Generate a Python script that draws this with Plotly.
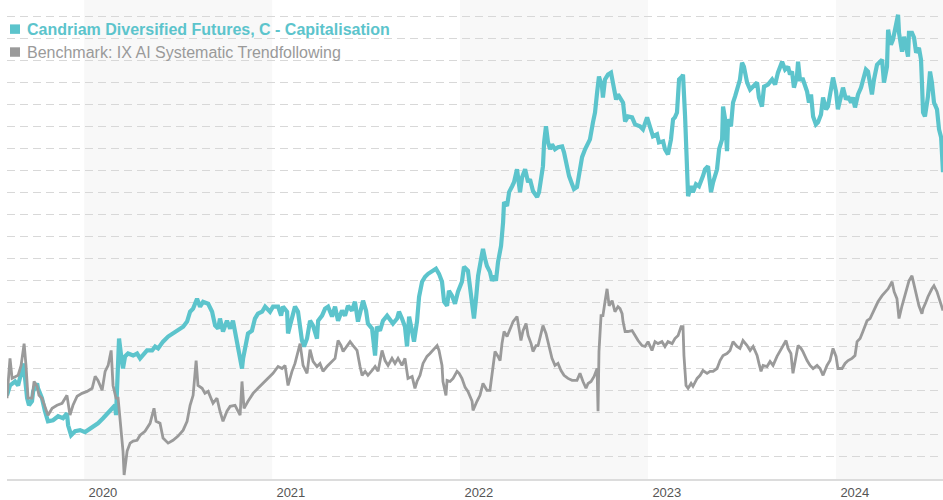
import plotly.graph_objects as go

# ---- data (x in decimal years, y in index points, gridline every 10) ----
fund_name = "Candriam Diversified Futures, C - Capitalisation"
bench_name = "Benchmark: IX AI Systematic Trendfollowing"

fund_year = [
    2019.590, 2019.606, 2019.633, 2019.649, 2019.665, 2019.675, 2019.686, 2019.697, 2019.707, 2019.723,
    2019.729, 2019.750, 2019.755, 2019.776, 2019.792, 2019.808, 2019.835, 2019.862, 2019.888, 2019.909,
    2019.915, 2019.931, 2019.952, 2019.979, 2020.005, 2020.021, 2020.048, 2020.074, 2020.101, 2020.128,
    2020.149, 2020.165, 2020.170, 2020.176, 2020.186, 2020.197, 2020.207, 2020.218, 2020.234, 2020.261,
    2020.282, 2020.298, 2020.314, 2020.335, 2020.362, 2020.378, 2020.394, 2020.420, 2020.447, 2020.473,
    2020.500, 2020.527, 2020.548, 2020.564, 2020.580, 2020.601, 2020.617, 2020.633, 2020.660, 2020.681,
    2020.697, 2020.713, 2020.723, 2020.739, 2020.760, 2020.777, 2020.792, 2020.814, 2020.830, 2020.840,
    2020.846, 2020.862, 2020.872, 2020.893, 2020.909, 2020.925, 2020.947, 2020.963, 2020.989, 2021.005,
    2021.032, 2021.048, 2021.058, 2021.080, 2021.085, 2021.101, 2021.122, 2021.138, 2021.159, 2021.170,
    2021.186, 2021.202, 2021.218, 2021.239, 2021.245, 2021.266, 2021.282, 2021.298, 2021.319, 2021.335,
    2021.351, 2021.372, 2021.388, 2021.404, 2021.425, 2021.441, 2021.457, 2021.484, 2021.500, 2021.510,
    2021.532, 2021.548, 2021.558, 2021.574, 2021.590, 2021.612, 2021.628, 2021.643, 2021.665, 2021.675,
    2021.691, 2021.707, 2021.718, 2021.729, 2021.745, 2021.755, 2021.771, 2021.782, 2021.798, 2021.814,
    2021.830, 2021.851, 2021.872, 2021.888, 2021.904, 2021.915, 2021.931, 2021.941, 2021.957, 2021.973,
    2021.989, 2022.010, 2022.021, 2022.042, 2022.053, 2022.064, 2022.074, 2022.085, 2022.096, 2022.112,
    2022.122, 2022.133, 2022.143, 2022.159, 2022.170, 2022.181, 2022.191, 2022.202, 2022.218, 2022.229,
    2022.234, 2022.250, 2022.261, 2022.277, 2022.287, 2022.303, 2022.309, 2022.319, 2022.330, 2022.346,
    2022.362, 2022.372, 2022.388, 2022.410, 2022.420, 2022.431, 2022.441, 2022.447, 2022.457, 2022.468,
    2022.479, 2022.489, 2022.505, 2022.521, 2022.543, 2022.553, 2022.569, 2022.580, 2022.596, 2022.606,
    2022.622, 2022.638, 2022.649, 2022.665, 2022.681, 2022.691, 2022.707, 2022.718, 2022.729, 2022.739,
    2022.755, 2022.760, 2022.771, 2022.787, 2022.803, 2022.814, 2022.830, 2022.840, 2022.851, 2022.867,
    2022.878, 2022.893, 2022.915, 2022.931, 2022.957, 2022.973, 2022.995, 2023.010, 2023.026, 2023.048,
    2023.058, 2023.080, 2023.090, 2023.106, 2023.122, 2023.133, 2023.143, 2023.154, 2023.165, 2023.181,
    2023.186, 2023.197, 2023.207, 2023.213, 2023.229, 2023.239, 2023.255, 2023.271, 2023.292, 2023.303,
    2023.319, 2023.335, 2023.346, 2023.367, 2023.378, 2023.394, 2023.399, 2023.410, 2023.420, 2023.426,
    2023.441, 2023.452, 2023.463, 2023.473, 2023.489, 2023.500, 2023.510, 2023.527, 2023.543, 2023.559,
    2023.580, 2023.590, 2023.606, 2023.617, 2023.638, 2023.660, 2023.676, 2023.691, 2023.713, 2023.729,
    2023.745, 2023.755, 2023.766, 2023.776, 2023.792, 2023.798, 2023.808, 2023.824, 2023.846, 2023.856,
    2023.867, 2023.878, 2023.893, 2023.904, 2023.920, 2023.931, 2023.947, 2023.957, 2023.973, 2023.984,
    2024.000, 2024.010, 2024.026, 2024.037, 2024.053, 2024.064, 2024.080, 2024.090, 2024.101, 2024.117,
    2024.133, 2024.143, 2024.159, 2024.170, 2024.181, 2024.191, 2024.202, 2024.218, 2024.234, 2024.245,
    2024.255, 2024.271, 2024.277, 2024.292, 2024.303, 2024.319, 2024.330, 2024.335, 2024.351, 2024.362,
    2024.372, 2024.383, 2024.388, 2024.404, 2024.415, 2024.426, 2024.441, 2024.452, 2024.457, 2024.463,
    2024.473, 2024.489, 2024.500, 2024.510, 2024.521, 2024.537, 2024.548, 2024.559, 2024.569,
]
fund_value = [
    38.0, 42.5, 44.3, 42.5, 48.0, 52.5, 45.7, 36.7, 33.5, 35.3,
    39.8, 43.4, 41.2, 36.7, 30.8, 26.2, 26.7, 28.5, 27.6, 29.9,
    24.4, 19.9, 21.7, 22.2, 21.3, 22.2, 24.0, 25.3, 27.6, 29.9,
    32.1, 33.5, 29.0, 47.1, 63.8, 56.1, 50.2, 55.7, 57.0, 56.1,
    57.0, 54.8, 56.1, 58.4, 58.4, 60.2, 59.3, 62.4, 64.7, 66.1,
    67.4, 69.2, 71.5, 76.0, 77.4, 81.9, 78.3, 80.5, 79.6, 76.0,
    69.7, 68.3, 72.9, 67.0, 71.9, 68.3, 71.9, 62.9, 56.1, 50.2,
    54.8, 60.6, 66.1, 67.4, 72.9, 75.1, 76.0, 78.3, 76.0, 78.3,
    78.3, 74.2, 78.3, 76.0, 66.1, 71.5, 78.3, 76.0, 62.9, 60.2,
    63.8, 71.9, 69.7, 63.8, 71.9, 74.2, 77.4, 78.3, 73.8, 78.3,
    71.9, 76.5, 74.2, 78.7, 76.5, 80.5, 71.5, 81.0, 76.5, 70.6,
    68.3, 56.1, 69.2, 67.4, 71.9, 74.2, 71.9, 70.6, 72.9, 76.0,
    72.9, 69.2, 60.2, 73.8, 67.0, 62.4, 71.5, 82.8, 89.6, 91.9,
    93.2, 94.6, 95.5, 93.2, 89.6, 80.5, 78.7, 85.5, 83.3, 79.6,
    85.1, 89.6, 96.4, 94.6, 87.8, 78.7, 72.9, 81.9, 92.3, 100.0,
    104.5, 100.0, 96.8, 94.1, 90.0, 92.3, 90.0, 98.6, 105.9, 116.7,
    125.8, 124.0, 130.3, 133.0, 134.8, 140.7, 134.8, 130.3, 137.1, 140.7,
    134.8, 136.2, 130.8, 128.1, 130.3, 136.2, 142.1, 152.9, 160.2, 152.9,
    149.8, 152.0, 149.8, 150.7, 151.1, 148.4, 142.1, 137.6, 133.9, 131.7,
    132.6, 140.7, 146.2, 149.8, 152.9, 154.3, 162.0, 166.5, 175.6, 182.8,
    178.3, 173.3, 181.5, 183.7, 184.6, 180.1, 172.4, 174.7, 173.3, 171.0,
    162.4, 164.7, 164.3, 161.1, 160.2, 158.8, 164.3, 160.2, 155.7, 156.6,
    152.9, 153.4, 149.8, 147.5, 154.3, 163.4, 164.3, 166.5, 181.5, 182.8,
    183.7, 164.7, 137.6, 128.5, 133.0, 130.3, 133.9, 133.0, 137.6, 140.7,
    142.1, 130.3, 134.8, 140.7, 149.8, 154.3, 169.2, 163.4, 148.9, 163.4,
    160.2, 171.0, 173.8, 176.9, 181.5, 189.1, 187.3, 180.1, 176.9, 178.3,
    180.1, 173.3, 169.2, 178.3, 179.2, 181.5, 179.2, 184.6, 189.6, 186.0,
    187.3, 183.7, 185.1, 177.8, 182.8, 189.6, 181.5, 181.5, 176.0, 171.0,
    174.7, 164.7, 161.1, 162.0, 165.6, 173.3, 167.9, 169.2, 176.0, 182.4,
    176.0, 167.9, 173.8, 177.8, 172.4, 173.8, 171.0, 173.3, 168.8, 174.7,
    177.8, 181.5, 186.0, 185.1, 177.8, 174.7, 181.5, 188.2, 189.6, 190.5,
    180.1, 187.3, 204.1, 197.3, 199.6, 207.2, 210.9, 202.7, 194.1, 200.9,
    195.9, 191.9, 202.7, 202.7, 200.5, 193.7, 195.9, 190.5, 180.1, 166.5,
    164.7, 173.8, 185.1, 180.1, 171.0, 167.9, 158.8, 155.2, 139.4,
]

bench_year = [
    2019.590, 2019.606, 2019.617, 2019.633, 2019.649, 2019.665, 2019.675, 2019.681, 2019.691, 2019.702,
    2019.723, 2019.734, 2019.750, 2019.760, 2019.776, 2019.792, 2019.808, 2019.830, 2019.856, 2019.883,
    2019.909, 2019.925, 2019.941, 2019.963, 2019.989, 2020.016, 2020.043, 2020.059, 2020.074, 2020.096,
    2020.112, 2020.128, 2020.144, 2020.154, 2020.170, 2020.181, 2020.197, 2020.207, 2020.213, 2020.229,
    2020.245, 2020.261, 2020.282, 2020.298, 2020.324, 2020.351, 2020.372, 2020.383, 2020.404, 2020.420,
    2020.447, 2020.473, 2020.500, 2020.527, 2020.548, 2020.564, 2020.580, 2020.596, 2020.606, 2020.628,
    2020.643, 2020.660, 2020.686, 2020.707, 2020.723, 2020.739, 2020.760, 2020.777, 2020.803, 2020.830,
    2020.840, 2020.851, 2020.872, 2020.899, 2020.925, 2020.952, 2020.979, 2021.005, 2021.032, 2021.053,
    2021.069, 2021.085, 2021.106, 2021.122, 2021.149, 2021.165, 2021.186, 2021.202, 2021.218, 2021.239,
    2021.255, 2021.271, 2021.292, 2021.309, 2021.335, 2021.351, 2021.367, 2021.378, 2021.399, 2021.415,
    2021.431, 2021.452, 2021.468, 2021.479, 2021.495, 2021.510, 2021.532, 2021.548, 2021.564, 2021.585,
    2021.601, 2021.617, 2021.638, 2021.654, 2021.670, 2021.691, 2021.707, 2021.723, 2021.745, 2021.760,
    2021.771, 2021.787, 2021.803, 2021.824, 2021.840, 2021.856, 2021.878, 2021.888, 2021.904, 2021.909,
    2021.925, 2021.931, 2021.947, 2021.963, 2021.984, 2021.995, 2022.010, 2022.027, 2022.042, 2022.064,
    2022.069, 2022.090, 2022.106, 2022.122, 2022.143, 2022.159, 2022.176, 2022.186, 2022.202, 2022.213,
    2022.223, 2022.234, 2022.250, 2022.266, 2022.282, 2022.303, 2022.314, 2022.324, 2022.335, 2022.351,
    2022.362, 2022.378, 2022.388, 2022.404, 2022.415, 2022.431, 2022.441, 2022.457, 2022.468, 2022.489,
    2022.505, 2022.521, 2022.537, 2022.553, 2022.574, 2022.596, 2022.622, 2022.638, 2022.654, 2022.670,
    2022.681, 2022.697, 2022.713, 2022.729, 2022.734, 2022.739, 2022.750, 2022.760, 2022.771, 2022.782,
    2022.793, 2022.809, 2022.824, 2022.840, 2022.851, 2022.862, 2022.867, 2022.878, 2022.893, 2022.915,
    2022.931, 2022.947, 2022.968, 2022.984, 2023.000, 2023.021, 2023.037, 2023.053, 2023.074, 2023.090,
    2023.106, 2023.128, 2023.143, 2023.160, 2023.176, 2023.186, 2023.191, 2023.202, 2023.213, 2023.229,
    2023.239, 2023.261, 2023.277, 2023.292, 2023.314, 2023.330, 2023.346, 2023.367, 2023.383, 2023.399,
    2023.420, 2023.436, 2023.452, 2023.473, 2023.489, 2023.505, 2023.527, 2023.543, 2023.559, 2023.580,
    2023.590, 2023.601, 2023.612, 2023.633, 2023.649, 2023.665, 2023.686, 2023.702, 2023.718, 2023.734,
    2023.745, 2023.760, 2023.771, 2023.787, 2023.798, 2023.814, 2023.824, 2023.846, 2023.862, 2023.878,
    2023.899, 2023.915, 2023.931, 2023.952, 2023.968, 2023.984, 2024.000, 2024.010, 2024.032, 2024.048,
    2024.064, 2024.085, 2024.101, 2024.112, 2024.128, 2024.143, 2024.154, 2024.165, 2024.181, 2024.207,
    2024.223, 2024.245, 2024.261, 2024.277, 2024.298, 2024.309, 2024.324, 2024.335, 2024.351, 2024.372,
    2024.388, 2024.404, 2024.415, 2024.426, 2024.441, 2024.457, 2024.463, 2024.479, 2024.489, 2024.510,
    2024.521, 2024.537, 2024.548, 2024.569,
]
bench_value = [
    36.7, 54.8, 45.7, 46.6, 47.1, 51.6, 58.4, 61.5, 51.6, 36.7,
    36.7, 44.3, 42.1, 38.0, 36.7, 33.0, 29.0, 32.1, 33.5, 34.4,
    38.0, 29.0, 33.5, 37.6, 38.9, 39.8, 41.2, 46.6, 44.8, 40.3,
    48.9, 51.6, 58.4, 42.5, 36.7, 36.7, 23.1, 12.7, 1.8, 12.7,
    16.3, 17.2, 17.6, 19.9, 21.7, 25.3, 32.1, 26.2, 25.3, 18.6,
    16.3, 17.6, 19.5, 22.2, 26.2, 33.5, 38.0, 53.8, 42.5, 41.2,
    38.9, 39.8, 34.4, 36.7, 30.8, 26.2, 30.8, 33.0, 33.5, 29.0,
    44.3, 32.1, 35.3, 38.9, 41.2, 43.4, 45.7, 48.0, 51.1, 50.2,
    51.6, 42.5, 48.9, 52.5, 61.5, 51.6, 48.0, 58.8, 53.4, 51.1,
    52.5, 48.9, 51.1, 52.5, 54.8, 62.9, 60.6, 57.9, 60.6, 62.4,
    60.6, 58.4, 51.1, 47.1, 48.9, 47.1, 49.3, 51.1, 48.9, 58.4,
    53.8, 51.6, 54.8, 52.5, 54.8, 51.6, 54.8, 45.7, 46.6, 41.2,
    44.3, 47.1, 52.5, 55.7, 57.0, 58.4, 60.6, 58.4, 51.6, 44.3,
    38.0, 44.8, 44.3, 45.7, 48.9, 48.0, 45.7, 41.6, 39.8, 35.3,
    31.2, 35.3, 38.0, 43.4, 40.3, 40.3, 50.2, 57.9, 55.7, 53.8,
    61.5, 67.0, 64.7, 68.3, 71.5, 73.8, 67.0, 62.9, 67.4, 70.6,
    65.2, 61.5, 57.9, 60.6, 60.6, 67.0, 69.7, 66.1, 62.4, 54.8,
    51.6, 52.5, 49.3, 47.1, 45.7, 44.8, 44.8, 48.0, 44.3, 41.2,
    43.4, 44.3, 46.6, 50.2, 30.8, 57.9, 74.2, 74.2, 80.5, 86.4,
    78.7, 81.0, 76.0, 78.3, 77.4, 75.1, 71.5, 67.0, 67.0, 67.4,
    65.2, 62.9, 60.6, 60.2, 62.4, 58.4, 62.4, 61.5, 62.4, 60.2,
    62.4, 61.5, 63.8, 65.2, 69.2, 69.2, 56.1, 42.5, 41.2, 43.4,
    42.1, 45.7, 47.1, 49.3, 48.0, 48.9, 48.9, 50.2, 53.8, 56.1,
    57.0, 58.4, 62.4, 60.2, 59.3, 62.9, 60.6, 58.4, 60.2, 56.1,
    52.5, 48.9, 51.6, 51.1, 53.4, 51.6, 55.7, 57.9, 60.6, 62.9,
    59.3, 57.0, 48.0, 55.7, 60.6, 59.3, 57.9, 53.8, 51.6, 50.2,
    51.6, 50.2, 47.1, 51.6, 53.8, 59.3, 55.7, 50.2, 50.2, 52.5,
    53.8, 54.8, 56.1, 62.4, 63.8, 67.0, 69.2, 71.9, 72.9, 77.4,
    80.5, 83.3, 85.1, 86.4, 89.6, 85.1, 81.9, 72.9, 78.7, 85.1,
    90.0, 92.3, 87.8, 83.3, 78.7, 75.1, 77.4, 80.5, 82.8, 86.4,
    87.8, 85.1, 81.9, 76.5,
]

shaded_years = [2020, 2022, 2024]
label_years = [2020, 2021, 2022, 2023, 2024]

# ---- style ----
TEAL = "#5cc4cc"
GREY = "#9a9a9a"
FONT = "Liberation Sans, Arial, sans-serif"
X_RANGE = [2019.590, 2024.569]

fig = go.Figure()
fig.add_trace(go.Scatter(x=fund_year, y=fund_value, mode="lines", name=fund_name,
                         line=dict(color=TEAL, width=4.2), hoverinfo="skip", showlegend=False))
fig.add_trace(go.Scatter(x=bench_year, y=bench_value, mode="lines", name=bench_name,
                         line=dict(color=GREY, width=2.8), hoverinfo="skip", showlegend=False))

shapes = []
for yr in shaded_years:
    shapes.append(dict(type="rect", xref="x", yref="paper", x0=yr, x1=min(yr + 1, X_RANGE[1]),
                       y0=0, y1=1, fillcolor="rgba(243,243,243,0.62)", line=dict(width=0),
                       layer="between"))

# legend squares (paper coordinates)
H = 481.0
W = 936.0
def px_x(p):
    return (p - 7) / W
def px_y(p):
    return 1 - p / H

shapes.append(dict(type="rect", xref="paper", yref="paper", x0=px_x(10), x1=px_x(20),
                   y0=px_y(34), y1=px_y(24.5), fillcolor=TEAL, line=dict(width=0)))
shapes.append(dict(type="rect", xref="paper", yref="paper", x0=px_x(10), x1=px_x(20),
                   y0=px_y(57), y1=px_y(47.5), fillcolor=GREY, line=dict(width=0)))

annotations = [
    dict(xref="paper", yref="paper", x=px_x(27), y=px_y(29.5), xanchor="left", yanchor="middle",
         text="<b>" + fund_name + "</b>", showarrow=False, borderpad=0, borderwidth=0,
         font=dict(family=FONT, size=16, color=TEAL)),
    dict(xref="paper", yref="paper", x=px_x(27), y=px_y(52.5), xanchor="left", yanchor="middle",
         text=bench_name, showarrow=False, borderpad=0, borderwidth=0,
         font=dict(family=FONT, size=16, color=GREY)),
]

fig.update_layout(
    width=943, height=500,
    margin=dict(l=7, r=0, t=0, b=19, pad=0),
    paper_bgcolor="white", plot_bgcolor="white",
    shapes=shapes, annotations=annotations,
    font=dict(family=FONT),
    hovermode=False,
    xaxis=dict(type="linear", range=X_RANGE, showgrid=False, zeroline=False,
               showline=True, linecolor="#dcdcdc", linewidth=2, ticks="",
               tickvals=[y + 0.1 for y in label_years], ticktext=[str(y) for y in label_years],
               tickfont=dict(family=FONT, size=13, color="#555555"), fixedrange=True),
    yaxis=dict(range=[0, 217.6], tick0=0, dtick=10, showticklabels=False, zeroline=False,
               showgrid=True, gridcolor="#d8d8d8", gridwidth=1, griddash="8px,5px",
               fixedrange=True),
)

fig.write_html("out.html", config={"displayModeBar": False},
               post_script="document.body.style.margin='0px';document.body.style.padding='0px';")
